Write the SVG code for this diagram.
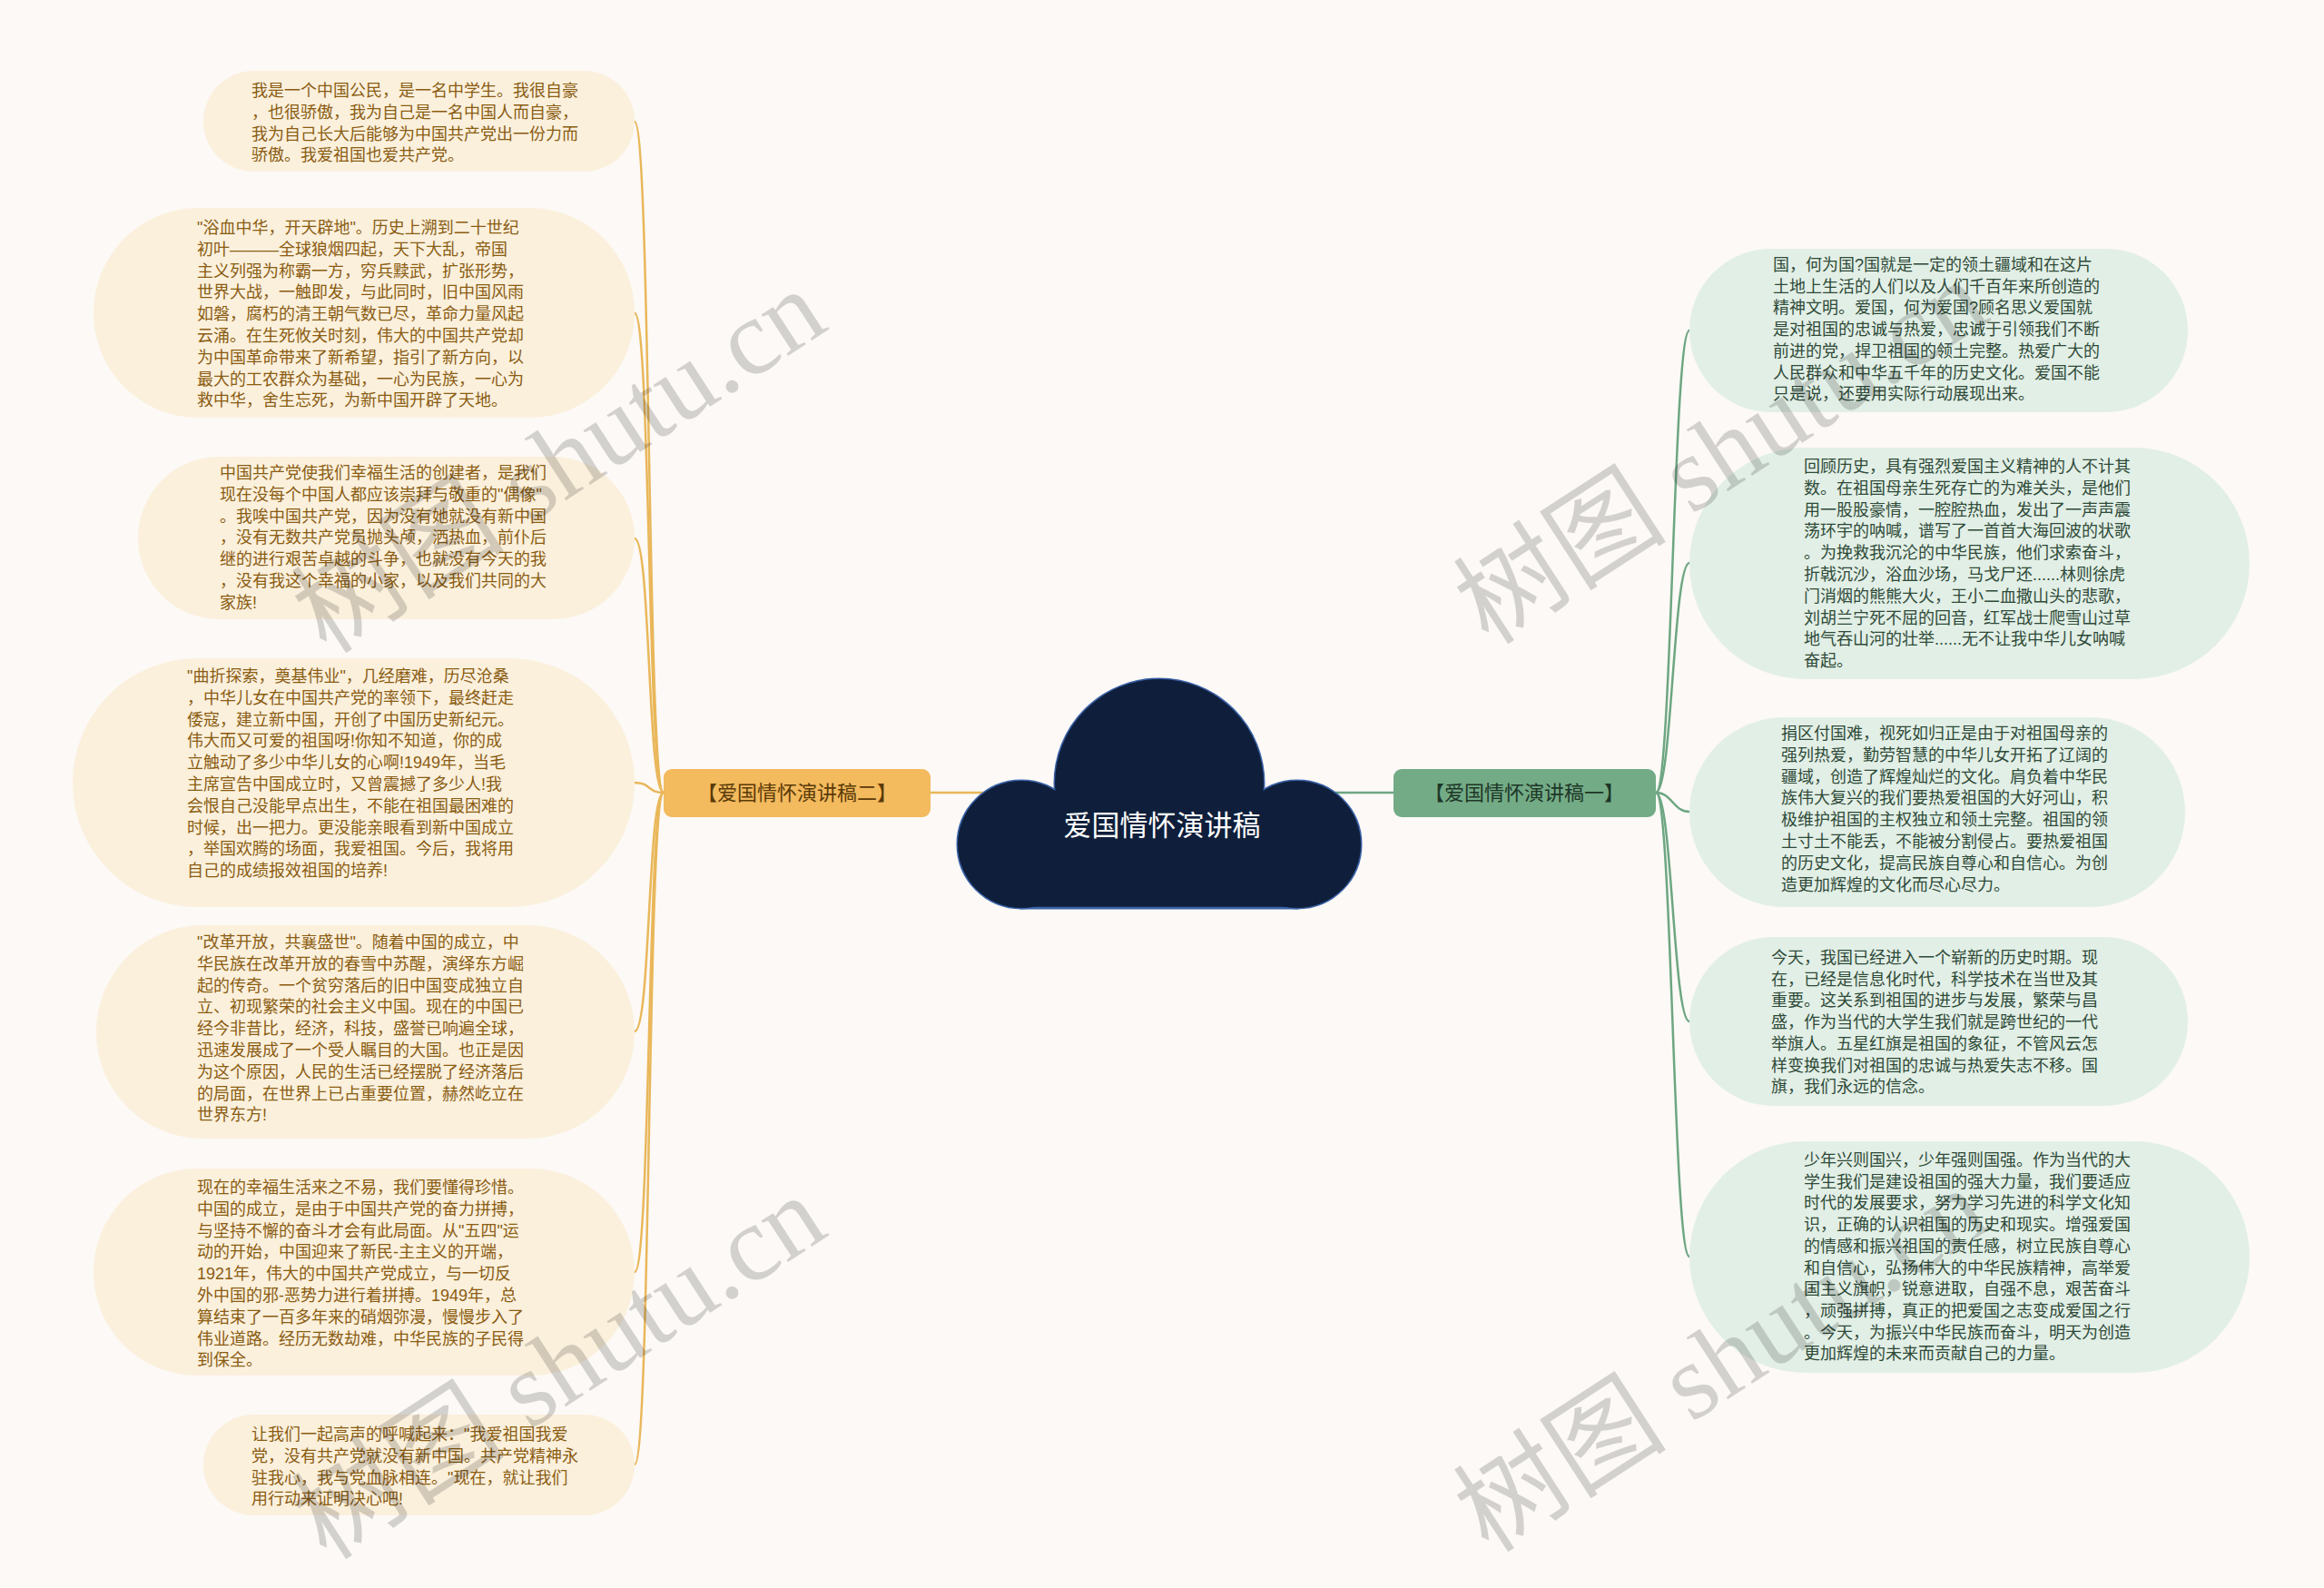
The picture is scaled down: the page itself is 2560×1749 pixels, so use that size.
<svg xmlns="http://www.w3.org/2000/svg" width="2560" height="1749" viewBox="0 0 2560 1749">
<style>
.bg{fill:#fcf9f6}
.lnL{fill:none;stroke:#e9b75a;stroke-width:2.5}
.lnR{fill:none;stroke:#6da682;stroke-width:2.5}
.pL{fill:#fbf0dc}
.pR{fill:#e2efe6}
.tL{font-family:"Liberation Sans","Noto Sans CJK SC",sans-serif;font-size:18px;fill:#8a5c12}
.tR{font-family:"Liberation Sans","Noto Sans CJK SC",sans-serif;font-size:18px;fill:#2e4a38}
.topL{fill:#f3ba5e}
.topR{fill:#73ab86}
.ttL{font-family:"Liberation Sans","Noto Sans CJK SC",sans-serif;font-size:22px;fill:#5a3a08;text-anchor:middle}
.ttR{font-family:"Liberation Sans","Noto Sans CJK SC",sans-serif;font-size:22px;fill:#1d3626;text-anchor:middle}
.cloudS{fill:#0f1f3b;stroke:#3a62a8;stroke-width:3}
.cloudF{fill:#0f1f3b}
.ct{font-family:"Liberation Sans","Noto Sans CJK SC",sans-serif;font-size:31px;fill:#ffffff;text-anchor:middle}
.wm{font-family:"Liberation Serif","Noto Sans CJK SC",serif;font-size:118px;fill:#000;fill-opacity:0.16}
</style>
<rect class="bg" x="0" y="0" width="2560" height="1749"/>

<g id="connectors">
<path class="lnL" d="M1025,873 L1120,873"/>
<path class="lnR" d="M1535,873 L1440,873"/>
<path class="lnL" d="M731,873 C713,873 717,134 699,134"/>
<path class="lnL" d="M731,873 C713,873 717,345 699,345"/>
<path class="lnL" d="M731,873 C713,873 717,593 699,593"/>
<path class="lnL" d="M731,873 C713,873 717,862 699,862"/>
<path class="lnL" d="M731,873 C713,873 717,1136 699,1136"/>
<path class="lnL" d="M731,873 C713,873 717,1401 699,1401"/>
<path class="lnL" d="M731,873 C713,873 717,1613 699,1613"/>
<path class="lnR" d="M1824,873 C1842,873 1843,364 1861,364"/>
<path class="lnR" d="M1824,873 C1842,873 1843,620 1861,620"/>
<path class="lnR" d="M1824,873 C1842,873 1843,894 1861,894"/>
<path class="lnR" d="M1824,873 C1842,873 1843,1125 1861,1125"/>
<path class="lnR" d="M1824,873 C1842,873 1843,1384 1861,1384"/>
</g>

<g id="root">
<circle class="cloudS" cx="1125" cy="930" r="70"/>
<circle class="cloudS" cx="1277" cy="863" r="115"/>
<circle class="cloudS" cx="1429" cy="930" r="70"/>
<rect class="cloudS" x="1125" y="900" width="304" height="100"/>
<circle class="cloudF" cx="1125" cy="930" r="70"/>
<circle class="cloudF" cx="1277" cy="863" r="115"/>
<circle class="cloudF" cx="1429" cy="930" r="70"/>
<rect class="cloudF" x="1125" y="900" width="304" height="98.5"/>
<text class="ct" x="1280" y="920">爱国情怀演讲稿</text>
</g>

<g id="topic-left">
<rect class="topL" x="731" y="847" width="294" height="53" rx="9"/>
<text class="ttL" x="878" y="881">【爱国情怀演讲稿二】</text>
</g>
<g id="topic-right">
<rect class="topR" x="1535" y="847" width="289" height="53" rx="9"/>
<text class="ttR" x="1679" y="881">【爱国情怀演讲稿一】</text>
</g>

<g id="L1">
<rect class="pL" x="224" y="78" width="475" height="111" rx="55.5"/>
<text class="tL" x="277" y="106"><tspan x="277">我是一个中国公民，是一名中学生。我很自豪</tspan><tspan x="277" dy="23.8">，也很骄傲，我为自己是一名中国人而自豪，</tspan><tspan x="277" dy="23.8">我为自己长大后能够为中国共产党出一份力而</tspan><tspan x="277" dy="23.8">骄傲。我爱祖国也爱共产党。</tspan></text>
</g>
<g id="L2">
<rect class="pL" x="103" y="229" width="596" height="231" rx="115.5"/>
<text class="tL" x="217" y="257"><tspan x="217">"浴血中华，开天辟地"。历史上溯到二十世纪</tspan><tspan x="217" dy="23.8">初叶———全球狼烟四起，天下大乱，帝国</tspan><tspan x="217" dy="23.8">主义列强为称霸一方，穷兵黩武，扩张形势，</tspan><tspan x="217" dy="23.8">世界大战，一触即发，与此同时，旧中国风雨</tspan><tspan x="217" dy="23.8">如磐，腐朽的清王朝气数已尽，革命力量风起</tspan><tspan x="217" dy="23.8">云涌。在生死攸关时刻，伟大的中国共产党却</tspan><tspan x="217" dy="23.8">为中国革命带来了新希望，指引了新方向，以</tspan><tspan x="217" dy="23.8">最大的工农群众为基础，一心为民族，一心为</tspan><tspan x="217" dy="23.8">救中华，舍生忘死，为新中国开辟了天地。</tspan></text>
</g>
<g id="L3">
<rect class="pL" x="152" y="503" width="547" height="179" rx="89.5"/>
<text class="tL" x="242" y="527"><tspan x="242">中国共产党使我们幸福生活的创建者，是我们</tspan><tspan x="242" dy="23.8">现在没每个中国人都应该崇拜与敬重的"偶像"</tspan><tspan x="242" dy="23.8">。我唉中国共产党，因为没有她就没有新中国</tspan><tspan x="242" dy="23.8">，没有无数共产党员抛头颅，洒热血，前仆后</tspan><tspan x="242" dy="23.8">继的进行艰苦卓越的斗争，也就没有今天的我</tspan><tspan x="242" dy="23.8">，没有我这个幸福的小家，以及我们共同的大</tspan><tspan x="242" dy="23.8">家族!</tspan></text>
</g>
<g id="L4">
<rect class="pL" x="80" y="725" width="619" height="274" rx="137"/>
<text class="tL" x="206" y="751"><tspan x="206">"曲折探索，奠基伟业"，几经磨难，历尽沧桑</tspan><tspan x="206" dy="23.8">，中华儿女在中国共产党的率领下，最终赶走</tspan><tspan x="206" dy="23.8">倭寇，建立新中国，开创了中国历史新纪元。</tspan><tspan x="206" dy="23.8">伟大而又可爱的祖国呀!你知不知道，你的成</tspan><tspan x="206" dy="23.8">立触动了多少中华儿女的心啊!1949年，当毛</tspan><tspan x="206" dy="23.8">主席宣告中国成立时，又曾震撼了多少人!我</tspan><tspan x="206" dy="23.8">会恨自己没能早点出生，不能在祖国最困难的</tspan><tspan x="206" dy="23.8">时候，出一把力。更没能亲眼看到新中国成立</tspan><tspan x="206" dy="23.8">，举国欢腾的场面，我爱祖国。今后，我将用</tspan><tspan x="206" dy="23.8">自己的成绩报效祖国的培养!</tspan></text>
</g>
<g id="L5">
<rect class="pL" x="106" y="1019" width="593" height="235" rx="117.5"/>
<text class="tL" x="217" y="1044"><tspan x="217">"改革开放，共襄盛世"。随着中国的成立，中</tspan><tspan x="217" dy="23.8">华民族在改革开放的春雪中苏醒，演绎东方崛</tspan><tspan x="217" dy="23.8">起的传奇。一个贫穷落后的旧中国变成独立自</tspan><tspan x="217" dy="23.8">立、初现繁荣的社会主义中国。现在的中国已</tspan><tspan x="217" dy="23.8">经今非昔比，经济，科技，盛誉已响遍全球，</tspan><tspan x="217" dy="23.8">迅速发展成了一个受人瞩目的大国。也正是因</tspan><tspan x="217" dy="23.8">为这个原因，人民的生活已经摆脱了经济落后</tspan><tspan x="217" dy="23.8">的局面，在世界上已占重要位置，赫然屹立在</tspan><tspan x="217" dy="23.8">世界东方!</tspan></text>
</g>
<g id="L6">
<rect class="pL" x="103" y="1287" width="596" height="228" rx="114"/>
<text class="tL" x="217" y="1314"><tspan x="217">现在的幸福生活来之不易，我们要懂得珍惜。</tspan><tspan x="217" dy="23.8">中国的成立，是由于中国共产党的奋力拼搏，</tspan><tspan x="217" dy="23.8">与坚持不懈的奋斗才会有此局面。从"五四"运</tspan><tspan x="217" dy="23.8">动的开始，中国迎来了新民-主主义的开端，</tspan><tspan x="217" dy="23.8">1921年，伟大的中国共产党成立，与一切反</tspan><tspan x="217" dy="23.8">外中国的邪-恶势力进行着拼搏。1949年，总</tspan><tspan x="217" dy="23.8">算结束了一百多年来的硝烟弥漫，慢慢步入了</tspan><tspan x="217" dy="23.8">伟业道路。经历无数劫难，中华民族的子民得</tspan><tspan x="217" dy="23.8">到保全。</tspan></text>
</g>
<g id="L7">
<rect class="pL" x="224" y="1558" width="475" height="111" rx="55.5"/>
<text class="tL" x="277" y="1586"><tspan x="277">让我们一起高声的呼喊起来："我爱祖国我爱</tspan><tspan x="277" dy="23.8">党，没有共产党就没有新中国。共产党精神永</tspan><tspan x="277" dy="23.8">驻我心，我与党血脉相连。"现在，就让我们</tspan><tspan x="277" dy="23.8">用行动来证明决心吧!</tspan></text>
</g>

<g id="R1">
<rect class="pR" x="1861" y="274" width="549" height="180" rx="90"/>
<text class="tR" x="1953" y="298"><tspan x="1953">国，何为国?国就是一定的领土疆域和在这片</tspan><tspan x="1953" dy="23.7">土地上生活的人们以及人们千百年来所创造的</tspan><tspan x="1953" dy="23.7">精神文明。爱国，何为爱国?顾名思义爱国就</tspan><tspan x="1953" dy="23.7">是对祖国的忠诚与热爱，忠诚于引领我们不断</tspan><tspan x="1953" dy="23.7">前进的党，捍卫祖国的领土完整。热爱广大的</tspan><tspan x="1953" dy="23.7">人民群众和中华五千年的历史文化。爱国不能</tspan><tspan x="1953" dy="23.7">只是说，还要用实际行动展现出来。</tspan></text>
</g>
<g id="R2">
<rect class="pR" x="1861" y="493" width="617" height="255" rx="127.5"/>
<text class="tR" x="1987" y="520"><tspan x="1987">回顾历史，具有强烈爱国主义精神的人不计其</tspan><tspan x="1987" dy="23.8">数。在祖国母亲生死存亡的为难关头，是他们</tspan><tspan x="1987" dy="23.8">用一股股豪情，一腔腔热血，发出了一声声震</tspan><tspan x="1987" dy="23.8">荡环宇的呐喊，谱写了一首首大海回波的状歌</tspan><tspan x="1987" dy="23.8">。为挽救我沉沦的中华民族，他们求索奋斗，</tspan><tspan x="1987" dy="23.8">折戟沉沙，浴血沙场，马戈尸还......林则徐虎</tspan><tspan x="1987" dy="23.8">门消烟的熊熊大火，王小二血撒山头的悲歌，</tspan><tspan x="1987" dy="23.8">刘胡兰宁死不屈的回音，红军战士爬雪山过草</tspan><tspan x="1987" dy="23.8">地气吞山河的壮举......无不让我中华儿女呐喊</tspan><tspan x="1987" dy="23.8">奋起。</tspan></text>
</g>
<g id="R3">
<rect class="pR" x="1861" y="790" width="546" height="209" rx="104.5"/>
<text class="tR" x="1962" y="814"><tspan x="1962">捐区付国难，视死如归正是由于对祖国母亲的</tspan><tspan x="1962" dy="23.8">强列热爱，勤劳智慧的中华儿女开拓了辽阔的</tspan><tspan x="1962" dy="23.8">疆域，创造了辉煌灿烂的文化。肩负着中华民</tspan><tspan x="1962" dy="23.8">族伟大复兴的我们要热爱祖国的大好河山，积</tspan><tspan x="1962" dy="23.8">极维护祖国的主权独立和领土完整。祖国的领</tspan><tspan x="1962" dy="23.8">土寸土不能丢，不能被分割侵占。要热爱祖国</tspan><tspan x="1962" dy="23.8">的历史文化，提高民族自尊心和自信心。为创</tspan><tspan x="1962" dy="23.8">造更加辉煌的文化而尽心尽力。</tspan></text>
</g>
<g id="R4">
<rect class="pR" x="1861" y="1032" width="549" height="186" rx="93"/>
<text class="tR" x="1951" y="1061"><tspan x="1951">今天，我国已经进入一个崭新的历史时期。现</tspan><tspan x="1951" dy="23.7">在，已经是信息化时代，科学技术在当世及其</tspan><tspan x="1951" dy="23.7">重要。这关系到祖国的进步与发展，繁荣与昌</tspan><tspan x="1951" dy="23.7">盛，作为当代的大学生我们就是跨世纪的一代</tspan><tspan x="1951" dy="23.7">举旗人。五星红旗是祖国的象征，不管风云怎</tspan><tspan x="1951" dy="23.7">样变换我们对祖国的忠诚与热爱失志不移。国</tspan><tspan x="1951" dy="23.7">旗，我们永远的信念。</tspan></text>
</g>
<g id="R5">
<rect class="pR" x="1861" y="1257" width="617" height="255" rx="127.5"/>
<text class="tR" x="1987" y="1284"><tspan x="1987">少年兴则国兴，少年强则国强。作为当代的大</tspan><tspan x="1987" dy="23.7">学生我们是建设祖国的强大力量，我们要适应</tspan><tspan x="1987" dy="23.7">时代的发展要求，努力学习先进的科学文化知</tspan><tspan x="1987" dy="23.7">识，正确的认识祖国的历史和现实。增强爱国</tspan><tspan x="1987" dy="23.7">的情感和振兴祖国的责任感，树立民族自尊心</tspan><tspan x="1987" dy="23.7">和自信心，弘扬伟大的中华民族精神，高举爱</tspan><tspan x="1987" dy="23.7">国主义旗帜，锐意进取，自强不息，艰苦奋斗</tspan><tspan x="1987" dy="23.7">，顽强拼搏，真正的把爱国之志变成爱国之行</tspan><tspan x="1987" dy="23.7">。今天，为振兴中华民族而奋斗，明天为创造</tspan><tspan x="1987" dy="23.7">更加辉煌的未来而贡献自己的力量。</tspan></text>
</g>

<g id="watermarks">
<text class="wm" transform="translate(360,722) rotate(-33)">树图 shutu.cn</text>
<text class="wm" transform="translate(360,1720) rotate(-33)">树图 shutu.cn</text>
<text class="wm" transform="translate(1640,712) rotate(-33)">树图 shutu.cn</text>
<text class="wm" transform="translate(1640,1712) rotate(-33)">树图 shutu.cn</text>
</g>
</svg>
